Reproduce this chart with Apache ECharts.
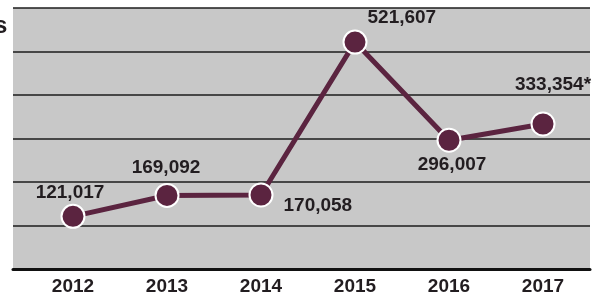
<!DOCTYPE html>
<html lang="en">
<head>
    <meta charset="UTF-8">
    <title>Yearly totals 2012-2017</title>
    <script src="https://cdn.jsdelivr.net/npm/echarts@6.0.0/dist/echarts.min.js"></script>
    <style>
        html, body { margin: 0; padding: 0; background: #ffffff; }
        #chart { width: 603px; height: 300px; }
    </style>
</head>
<body>
    <div id="chart"></div>

    <script>
        // data
        const years = ['2012', '2013', '2014', '2015', '2016', '2017'];
        const totals = [121017, 169092, 170058, 521607, 296007, 333354];
        const notes = ['', '', '', '', '', '*'];   // 2017 is marked as an estimate
        const yTicks = [0, 100000, 200000, 300000, 400000, 500000, 600000];

        const ink = '#221d20';
        const plum = '#5b2440';
        const font = '"Liberation Sans", Arial, sans-serif';

        // where each value label sits around its dot
        const labelLayouts = [
            { position: 'top', distance: 2, offset: [-3, 0] },
            { position: 'top', distance: 6, offset: [-1, 0] },
            { position: 'right', distance: 10, offset: [0, 11] },
            { position: 'right', distance: 0, offset: [0, -24] },
            { position: 'bottom', distance: 3, offset: [3, 0] },
            { position: 'top', distance: 17, offset: [10, 0] }
        ];

        const chart = echarts.init(document.getElementById('chart'));

        const option = {
            animation: false,
            grid: [
                // shaded backdrop with the rules
                { left: 13, right: 13, top: 8, bottom: 31, show: true, backgroundColor: '#c8c8c8', borderWidth: 0 },
                // the plotted years
                { left: 73, right: 60, top: 8, bottom: 31 }
            ],
            xAxis: [
                {
                    gridIndex: 0, type: 'value', min: 0, max: 1,
                    axisLine: { show: true, onZero: false, lineStyle: { color: '#111', width: 3 } },
                    axisTick: { show: false }, axisLabel: { show: false }, splitLine: { show: false }
                },
                {
                    gridIndex: 1, type: 'category', data: years, boundaryGap: false,
                    axisLine: { show: false }, axisTick: { show: false }, splitLine: { show: false },
                    axisLabel: { color: ink, fontFamily: font, fontWeight: 'bold', fontSize: 19, margin: 8 }
                }
            ],
            yAxis: [
                {
                    gridIndex: 0, type: 'value', min: yTicks[0], max: yTicks[yTicks.length - 1],
                    interval: yTicks[1] - yTicks[0],
                    axisLine: { show: false }, axisTick: { show: false }, axisLabel: { show: false },
                    splitLine: { show: true, lineStyle: { color: '#1c1c1c', width: 1.5 } }
                },
                {
                    gridIndex: 1, type: 'value', min: yTicks[0], max: yTicks[yTicks.length - 1],
                    show: false, splitLine: { show: false }
                }
            ],
            graphic: [
                {
                    type: 'text', left: -6, top: 14,
                    style: { text: 's', fontFamily: font, fontWeight: 'bold', fontSize: 24, fill: ink }
                }
            ],
            series: [{
                type: 'line',
                xAxisIndex: 1,
                yAxisIndex: 1,
                data: totals.map((v, i) => ({
                    value: v,
                    label: labelLayouts[i]
                })),
                symbol: 'circle',
                symbolSize: 23,
                lineStyle: { color: plum, width: 5 },
                itemStyle: { color: plum, borderColor: '#ffffff', borderWidth: 2 },
                label: {
                    show: true,
                    color: ink,
                    fontFamily: font,
                    fontWeight: 'bold',
                    fontSize: 19,
                    formatter: p => p.value.toLocaleString('en-US') + notes[p.dataIndex]
                },
                z: 5
            }]
        };

        chart.setOption(option);
    </script>
</body>
</html>
